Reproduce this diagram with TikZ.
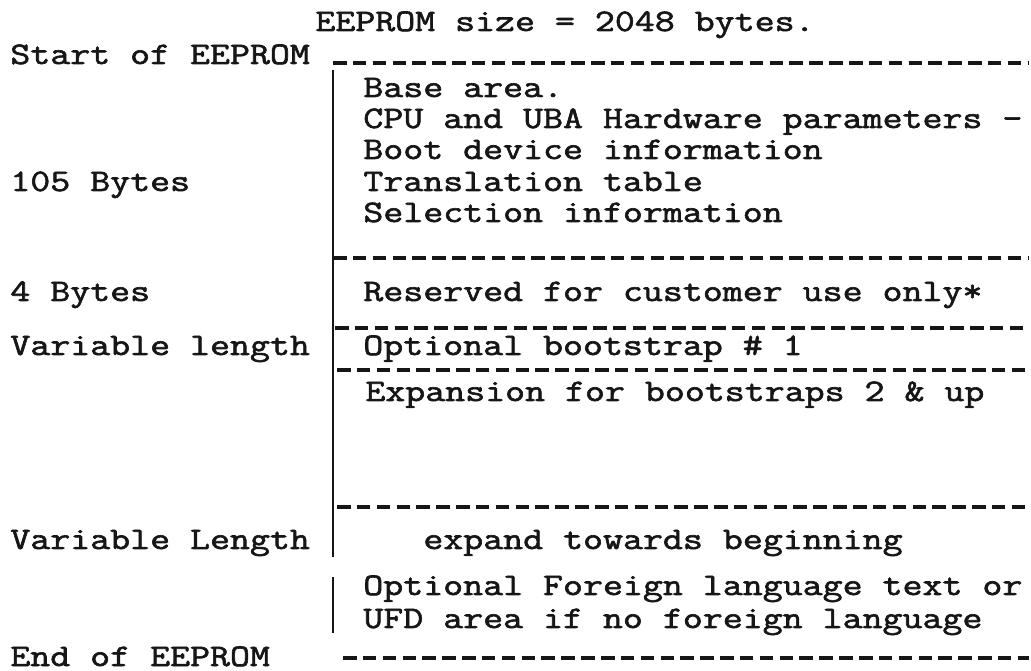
\documentclass[tikz,border=0pt]{standalone}
\usepackage{fontspec}
\usepackage{xcolor}
\usepackage{tikz}
\newfontfamily\typewr{Latin Modern Mono}[FakeStretch=1.24,FakeBold=2]
\definecolor{tyink}{RGB}{22,22,22}
\tikzset{
  typed/.style={
    anchor=base west, inner sep=0pt, text=tyink,
    font=\typewr\fontsize{17.8}{22}\selectfont
  },
  rule/.style={
    draw=tyink, line width=2pt,
    dash pattern=on 0.27cm off 0.127cm
  },
  bar/.style={draw=tyink, line width=1.6pt}
}
\begin{document}
\begin{tikzpicture}[x=0.02cm,y=-0.02cm]
  \useasboundingbox (0,0) rectangle (1031,671);

  % heading and left column
  \node[typed] (size) at (315,31) {EEPROM size = 2048 bytes.};
  \node[typed] (start) at (10,64) {Start of EEPROM};
  \node[typed] (len105) at (10,191) {105 Bytes};
  \node[typed] (len4) at (10,301) {4 Bytes};
  \node[typed] (varlen) at (10,355) {Variable length};
  \node[typed] (varLen) at (10,549) {Variable Length};
  \node[typed] (stop) at (10,666) {End of EEPROM};

  % right column
  \node[typed] (base) at (363,97) {Base area.};
  \node[typed] (cpu) at (363,128) {CPU and UBA Hardware parameters -};
  \node[typed] (boot) at (363,159) {Boot device information};
  \node[typed] (trans) at (363,191) {Translation table};
  \node[typed] (sel) at (363,222) {Selection information};
  \node[typed] (resv) at (363,301) {Reserved for customer use only*};
  \node[typed] (bs1) at (363,355) {Optional bootstrap \# 1};
  \node[typed] (bsx) at (365,401) {Expansion for bootstraps 2 \& up};
  \node[typed] (grow) at (423,549) {expand towards beginning};
  \node[typed] (fl1) at (363,595) {Optional Foreign language text or};
  \node[typed] (fl2) at (363,628) {UFD area if no foreign language};

  % separators
  \draw[rule] (333,63) -- (1029,63);
  \draw[rule] (333,258) -- (1029,258);
  \draw[rule] (335,328) -- (1029,328);
  \draw[rule] (337,370) -- (1029,370);
  \draw[rule] (337,507) -- (1029,507);
  \draw[rule] (343,658) -- (1029,658);

  % left edge of the map
  \draw[bar] (333,70) -- (333,557);
  \draw[bar] (333,577) -- (333,633);
\end{tikzpicture}
\end{document}
